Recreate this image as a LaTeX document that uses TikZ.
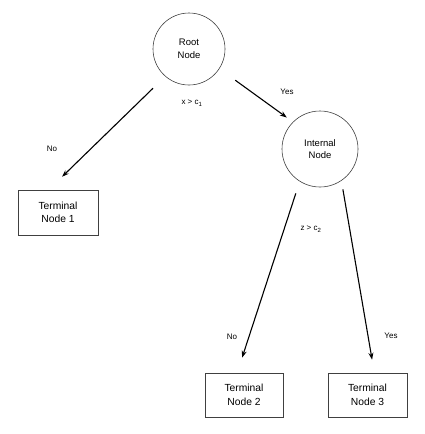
\documentclass[tikz,border=0pt]{standalone}
\usepackage{fontspec}
\setmainfont{Liberation Sans}
\usetikzlibrary{arrows.meta}

\begin{document}
\begin{tikzpicture}[x=1pt, y=-1pt, every node/.style={inner sep=0pt}]
  \tikzset{split/.style={circle, draw=black!75, line width=0.6pt, align=center, font=\fontsize{9.5}{12.5}\selectfont}}
  \tikzset{leaf/.style={rectangle, draw=black!75, line width=0.6pt, align=center, font=\fontsize{10.3}{13.5}\selectfont}}
  \tikzset{br/.style={draw=black, line width=1.1pt, -{Stealth[length=7pt,width=5pt]}}}
  \tikzset{lab/.style={font=\fontsize{8}{9.6}\selectfont}}
  \useasboundingbox (0,0) rectangle (425,434);
  \node[split, minimum size=72pt] (root) at (189.0000, 49.0000) {Root\\Node};
  \node[split, minimum size=76pt] (inner) at (320.0000, 149.0000) {Internal\\Node};
  \node[leaf, minimum width=80pt, minimum height=45pt] (leaf1) at (58.0000, 212.5000) {Terminal\\Node 1};
  \node[leaf, minimum width=78pt, minimum height=44pt] (leaf2) at (244.0000, 395.0000) {Terminal\\Node 2};
  \node[leaf, minimum width=79pt, minimum height=44pt] (leaf3) at (367.5000, 395.0000) {Terminal\\Node 3};
  % split rules and answers
  \node[lab] (rule1) at (192.0000, 103.0000) {x > c\textsubscript{1}};
  \node[lab] (rule2) at (311.0000, 229.0000) {z > c\textsubscript{2}};
  \node[lab] (no1) at (52.0000, 149.0000) {No};
  \node[lab] (yes1) at (287.0000, 92.0000) {Yes};
  \node[lab] (no2) at (232.0000, 337.0000) {No};
  \node[lab] (yes2) at (391.0000, 336.0000) {Yes};
  % branches
  \draw[br, shorten <=17pt, shorten >=18.6pt] (root.229) -- (leaf1.112);
  \draw[br, shorten <=19.5pt, shorten >=7.5pt] (root.-33) -- (inner.135);
  \draw[br, shorten <=12.5pt, shorten >=15.8pt] (inner.238) -- (leaf2.107);
  \draw[br, shorten <=8.7pt, shorten >=13.2pt] (inner.-56) -- (leaf3.73);
\end{tikzpicture}
\end{document}
